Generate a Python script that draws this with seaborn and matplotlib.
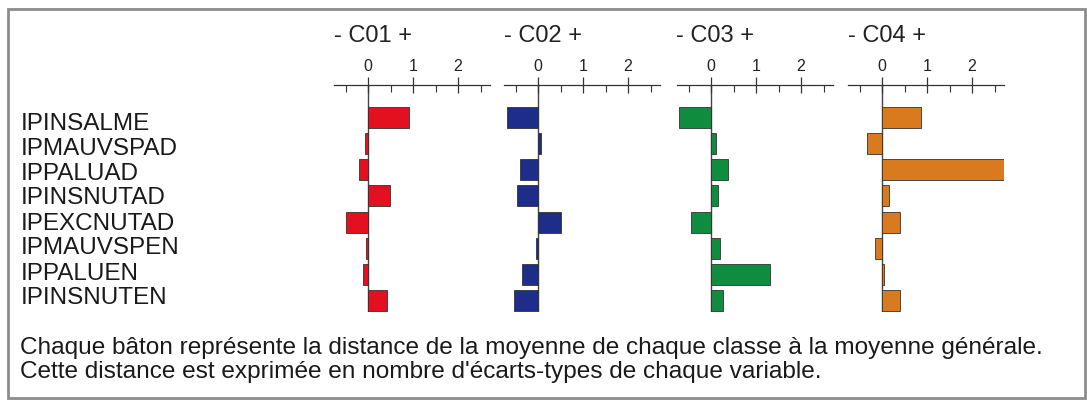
import matplotlib
matplotlib.use('Agg')
import matplotlib.pyplot as plt
import matplotlib.transforms as mtransforms
from matplotlib.patches import Rectangle
import seaborn as sns
import pandas as pd

# variables (rows) and class profiles, in standard deviations
variables = ['IPINSALME', 'IPMAUVSPAD', 'IPPALUAD', 'IPINSNUTAD',
             'IPEXCNUTAD', 'IPMAUVSPEN', 'IPPALUEN', 'IPINSNUTEN']
classes = ['C01', 'C02', 'C03', 'C04']
c01 = [0.91, -0.06, -0.20, 0.48, -0.50, -0.04, -0.12, 0.42]
c02 = [-0.69, 0.06, -0.41, -0.47, 0.52, -0.05, -0.35, -0.53]
c03 = [-0.71, 0.10, 0.38, 0.16, -0.45, 0.21, 1.31, 0.26]
c04 = [0.87, -0.33, 2.73, 0.16, 0.39, -0.16, 0.05, 0.39]
colors = ['#E3101F', '#1E2C8A', '#0F8C3E', '#DA7A1E']
footer = ["Chaque bâton représente la distance de la moyenne de chaque classe à la moyenne générale.",
          "Cette distance est exprimée en nombre d'écarts-types de chaque variable."]

sns.set_style('white')
plt.rcParams['font.family'] = ['Liberation Sans', 'DejaVu Sans']

W, H = 1087, 401
fig = plt.figure(figsize=(W / 100, H / 100), dpi=100)

# outer frame
fig.patches.append(Rectangle((8 / W, 1 - 398 / H), (1085 - 8) / W, (398 - 9) / H,
                             transform=fig.transFigure, fill=False,
                             edgecolor='#8c8c8c', lw=2))

xmin, xmax = -0.75, 2.7
px_per_unit = 45
zeros_px = [368, 538, 711, 882]
top_px, bot_px = 85, 312
values = [c01, c02, c03, c04]

for i, (cls, vals, col) in enumerate(zip(classes, values, colors)):
    left = zeros_px[i] + xmin * px_per_unit
    width = (xmax - xmin) * px_per_unit
    ax = fig.add_axes([left / W, 1 - bot_px / H, width / W, (bot_px - top_px) / H])
    df = pd.DataFrame({'var': variables, 'val': vals})
    sns.barplot(data=df, x='val', y='var', orient='h', color=col, width=0.8,
                edgecolor='#333333', linewidth=0.6, saturation=1, ax=ax)
    ax.set_xlim(xmin, xmax)
    ax.set_ylim(7.42, -1.22)
    ax.axvline(0, color='#444444', lw=1, zorder=0)
    for s in ['left', 'right', 'bottom']:
        ax.spines[s].set_visible(False)
    ax.spines['top'].set_color('#333333')
    ax.spines['top'].set_linewidth(0.9)
    ax.xaxis.tick_top()
    ax.set_xticks([0, 1, 2])
    ax.set_xticks([-0.5, 0.5, 1.5, 2.5], minor=True)
    ax.tick_params(axis='x', which='major', direction='inout', length=12, width=0.9,
                   color='#333333', labelsize=11.5, labelcolor='#222222', pad=2, top=True)
    ax.tick_params(axis='x', which='minor', direction='in', length=5, width=0.8,
                   color='#333333', top=True)
    ax.set_yticks([])
    ax.set_xlabel('')
    ax.set_ylabel('')
    ax.patch.set_alpha(0)
    tr = mtransforms.blended_transform_factory(ax.transData, fig.transFigure)
    ax.text(0.1, 1 - 36 / H, '- ' + cls + ' +', transform=tr, ha='center', va='center',
            fontsize=17, color='#222222')

# variable labels on the left
for j, v in enumerate(variables):
    fig.text(21 / W, 1 - (123.5 + 25 * j) / H, v, ha='left', va='center',
             fontsize=17.5, color='#1a1a1a')

fig.text(20 / W, 1 - 348 / H, footer[0], ha='left', va='center', fontsize=17.6, color='#1a1a1a')
fig.text(20 / W, 1 - 372 / H, footer[1], ha='left', va='center', fontsize=17.6, color='#1a1a1a')

fig.savefig('out.png', dpi=100)
